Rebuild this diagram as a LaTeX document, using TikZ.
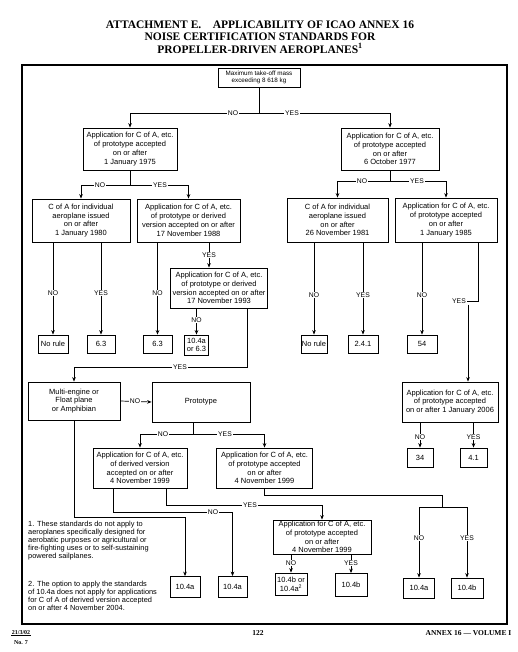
\documentclass[tikz,border=0pt]{standalone}
\usepackage{fontspec}
\setmainfont{Liberation Serif}
\setsansfont{Liberation Sans}
\usetikzlibrary{arrows.meta}

\newlength{\du}
\setlength{\du}{1pt}
\definecolor{dialinecolor}{rgb}{0.000000, 0.000000, 0.000000}
\newcommand{\boxfont}{\sffamily\fontsize{7.5}{8.8}\selectfont}
\newcommand{\massfont}{\sffamily\fontsize{6.3}{7.6}\selectfont}
\newcommand{\notefont}{\sffamily\fontsize{7.4}{8}\selectfont}
\tikzset{
  box/.style={draw=dialinecolor, line width=0.8\du, align=center, font=\boxfont, inner sep=0.5\du},
  lbl/.style={fill=white, inner sep=1\du, font=\sffamily\fontsize{6.8}{7}\selectfont},
  wire/.style={draw=dialinecolor, line width=0.7\du},
  arr/.style={wire, -{Stealth[length=4.5pt,width=3.6pt]}},
  heading/.style={font=\bfseries\fontsize{11.5}{12}\selectfont, inner sep=0},
  foot/.style={font=\bfseries\fontsize{6}{7}\selectfont, inner sep=0.5\du}
}

\begin{document}
\begin{tikzpicture}
\pgftransformxscale{1.000000}
\pgftransformyscale{-1.000000}
\useasboundingbox (0\du,0\du) rectangle (517\du,652\du);

% title
\node[heading] (title1) at (260\du,25\du) {ATTACHMENT E.\quad APPLICABILITY OF ICAO ANNEX 16};
\node[heading] (title2) at (260\du,37\du) {NOISE CERTIFICATION STANDARDS FOR};
\node[heading] (title3) at (260\du,48.5\du) {PROPELLER-DRIVEN AEROPLANES\textsuperscript{1}};
\draw[line width=1.2\du, dialinecolor] (22\du,65\du) rectangle (507\du,624\du);

% boxes
\node[box, font=\massfont, minimum width=82\du, minimum height=19\du] (mass) at (259\du,77.5\du) {Maximum take-off mass\\exceeding 8 618 kg};
\node[box, minimum width=94\du, minimum height=42\du] (a1975) at (130\du,149\du) {Application for C of A, etc.\\of prototype accepted\\on or after\\1 January 1975};
\node[box, minimum width=98\du, minimum height=42\du] (a1977) at (390\du,149\du) {Application for C of A, etc.\\of prototype accepted\\on or after\\6 October 1977};
\node[box, minimum width=98\du, minimum height=43\du] (c1980) at (81\du,220.5\du) {C of A for individual\\aeroplane issued\\on or after\\1 January 1980};
\node[box, minimum width=103\du, minimum height=43\du] (a1988) at (188.5\du,220.5\du) {Application for C of A, etc.\\of prototype or derived\\version accepted on or after\\17 November 1988};
\node[box, minimum width=101\du, minimum height=44\du] (c1981) at (337.5\du,220\du) {C of A for individual\\aeroplane issued\\on or after\\26 November 1981};
\node[box, minimum width=102\du, minimum height=44\du] (a1985) at (446\du,220\du) {Application for C of A, etc.\\of prototype accepted\\on or after\\1 January 1985};
\node[box, minimum width=97\du, minimum height=40\du] (a1993) at (219\du,288\du) {Application for C of A, etc.\\of prototype or derived\\version accepted on or after\\17 November 1993};
\node[box, minimum width=30\du, minimum height=18\du] (rule1) at (53\du,344\du) {No rule};
\node[box, minimum width=28\du, minimum height=18\du] (s63a) at (101\du,344\du) {6.3};
\node[box, minimum width=29\du, minimum height=18\du] (s63b) at (157.5\du,344\du) {6.3};
\node[box, minimum width=24\du, minimum height=20\du] (s104a) at (196.5\du,345\du) {10.4a\\or 6.3};
\node[box, minimum width=26\du, minimum height=18\du] (rule2) at (314\du,344\du) {No rule};
\node[box, minimum width=30\du, minimum height=18\du] (s241) at (363\du,344\du) {2.4.1};
\node[box, minimum width=30\du, minimum height=18\du] (s54) at (422\du,344\du) {54};
\node[box, minimum width=92\du, minimum height=38\du] (multi) at (74\du,401\du) {Multi-engine or\\Float plane\\or Amphibian};
\node[box, minimum width=98\du, minimum height=40\du] (proto) at (201\du,402\du) {Prototype};
\node[box, minimum width=96\du, minimum height=40\du] (a2006) at (450\du,402\du) {Application for C of A, etc.\\of prototype accepted\\on or after 1 January 2006};
\node[box, minimum width=26\du, minimum height=19\du] (s34) at (420\du,457.5\du) {34};
\node[box, minimum width=27\du, minimum height=19\du] (s41) at (473.5\du,457.5\du) {4.1};
\node[box, minimum width=94\du, minimum height=40\du] (dv1999) at (140\du,468\du) {Application for C of A, etc.\\of derived version\\accepted on or after\\4 November 1999};
\node[box, minimum width=96\du, minimum height=40\du] (pt1999) at (264.5\du,468\du) {Application for C of A, etc.\\of prototype accepted\\on or after\\4 November 1999};
\node[box, minimum width=98\du, minimum height=34\du] (pt2) at (322\du,537\du) {Application for C of A, etc.\\of prototype accepted\\on or after\\4 November 1999};
\node[box, minimum width=30\du, minimum height=21\du] (t1) at (185\du,587\du) {10.4a};
\node[box, minimum width=29\du, minimum height=21\du] (t2) at (232.5\du,587\du) {10.4a};
\node[box, minimum width=32\du, minimum height=22\du] (t3) at (291\du,584\du) {10.4b or\\10.4a\textsuperscript{2}};
\node[box, minimum width=32\du, minimum height=23\du] (t4) at (351\du,585\du) {10.4b};
\node[box, minimum width=31\du, minimum height=20\du] (t5) at (419\du,588\du) {10.4a};
\node[box, minimum width=32\du, minimum height=20\du] (t6) at (467\du,588\du) {10.4b};

% connectors
\coordinate (jmass) at (259\du,113\du);
\draw[wire] (mass.south) -- (jmass);
\draw[arr] (jmass) -| (a1975.north);
\draw[arr] (jmass) -| (a1977.north);
\coordinate (j1975) at (130\du,185\du);
\draw[wire] (a1975.south) -- (j1975);
\draw[arr] (j1975) -| (c1980.north);
\draw[arr] (j1975) -| (a1988.north);
\coordinate (j1977) at (390\du,181\du);
\draw[wire] (a1977.south) -- (j1977);
\draw[arr] (j1977) -| (c1981.north);
\draw[arr] (j1977) -| (a1985.north);
\draw[arr] (rule1.north |- c1980.south) -- (rule1.north);
\draw[arr] (s63a.north |- c1980.south) -- (s63a.north);
\draw[arr] (s63b.north |- a1988.south) -- (s63b.north);
\draw[arr] ([xshift=-10\du]a1993.north |- a1988.south) -- ([xshift=-10\du]a1993.north);
\draw[arr] (s104a.north |- a1993.south) -- (s104a.north);
\coordinate (j1993) at (74\du,367\du);
\draw[arr] ([xshift=28\du]a1993.south) |- (j1993) -- (multi.north);
\draw[arr] (rule2.north |- c1981.south) -- (rule2.north);
\draw[arr] (s241.north |- c1981.south) -- (s241.north);
\draw[arr] (s54.north |- a1985.south) -- (s54.north);
\node[lbl] (y1985) at (459\du,301\du) {YES};
\draw[wire] ([xshift=32\du]a1985.south) |- (y1985.east);
\draw[arr] ([xshift=9\du]y1985.south) -- ([xshift=9\du]y1985.south |- a2006.north);
\draw[arr] (s34.north |- a2006.south) -- (s34.north);
\draw[arr] (s41.north |- a2006.south) -- (s41.north);
\draw[arr] (multi.east) -- (proto.west);
\coordinate (jproto) at (193\du,434\du);
\draw[wire] ([xshift=-8\du]proto.south) -- (jproto);
\draw[arr] (jproto) -| (dv1999.north);
\draw[arr] (jproto) -| (pt1999.north);
\coordinate (jmulti) at (185\du,517\du);
\draw[arr] (multi.south) |- (jmulti) -- (t1.north);
\coordinate (jdvno) at (232.5\du,512\du);
\draw[arr] ([xshift=-27\du]dv1999.south) |- (jdvno) -- (t2.north);
\coordinate (jdvyes) at (322\du,505\du);
\draw[arr] ([xshift=26\du]dv1999.south) |- (jdvyes) -- (pt2.north);
\coordinate (jpt1) at (442\du,495\du);
\coordinate (jpt2) at (442\du,507\du);
\draw[wire] (pt1999.south) |- (jpt1) -- (jpt2);
\draw[arr] (jpt2) -| (t5.north);
\draw[arr] (jpt2) -| (t6.north);
\draw[arr] (t3.north |- pt2.south) -- (t3.north);
\draw[arr] (t4.north |- pt2.south) -- (t4.north);

% labels
\node[lbl] (nMass) at (233\du,113\du) {NO};
\node[lbl] (yMass) at (292\du,113\du) {YES};
\node[lbl] (n1975) at (100\du,185\du) {NO};
\node[lbl] (y1975) at (160\du,185\du) {YES};
\node[lbl] (n1977) at (362\du,181\du) {NO};
\node[lbl] (y1977) at (417\du,181\du) {YES};
\node[lbl] (n1980) at (53\du,293\du) {NO};
\node[lbl] (y1980) at (101\du,293\du) {YES};
\node[lbl] (n1988) at (157.5\du,293\du) {NO};
\node[lbl] (y1988) at (209\du,255\du) {YES};
\node[lbl] (n1993) at (196.5\du,320\du) {NO};
\node[lbl] (y1993) at (180\du,367\du) {YES};
\node[lbl] (n1981) at (314\du,295\du) {NO};
\node[lbl] (y1981) at (363\du,295\du) {YES};
\node[lbl] (n1985) at (422\du,295\du) {NO};
\node[lbl] (n2006) at (420\du,437\du) {NO};
\node[lbl] (y2006) at (473.5\du,437\du) {YES};
\node[lbl] (nMulti) at (135\du,401\du) {NO};
\node[lbl] (nProto) at (163\du,434\du) {NO};
\node[lbl] (yProto) at (225\du,434\du) {YES};
\node[lbl] (nDv) at (213\du,512\du) {NO};
\node[lbl] (yDv) at (250\du,505\du) {YES};
\node[lbl] (nPt) at (419\du,538\du) {NO};
\node[lbl] (yPt) at (467\du,538\du) {YES};
\node[lbl] (nPt2) at (291\du,563\du) {NO};
\node[lbl] (yPt2) at (351\du,563\du) {YES};

% notes
\node[anchor=north west, align=left, font=\notefont, inner sep=0] (fn1) at (28\du,521\du) {1. These standards do not apply to\\aeroplanes specifically designed for\\aerobatic purposes or agricultural or\\fire-fighting uses or to self-sustaining\\powered sailplanes.};
\node[anchor=north west, align=left, font=\notefont, inner sep=0] (fn2) at (28\du,581\du) {2. The option to apply the standards\\of 10.4a does not apply for applications\\for C of A of derived version accepted\\on or after 4 November 2004.};

% footer
\node[foot] (date) at (21\du,633\du) {21/3/02};
\draw[line width=0.5\du] (date.south west) -- (date.south east);
\node[foot] (amend) at (21\du,643\du) {No. 7};
\node[foot, font=\bfseries\fontsize{7.5}{8}\selectfont] (page) at (258\du,633\du) {122};
\node[foot, font=\bfseries\fontsize{7.5}{8}\selectfont, anchor=east] (annex) at (512\du,633\du) {ANNEX 16 --- VOLUME I};
\end{tikzpicture}
\end{document}
